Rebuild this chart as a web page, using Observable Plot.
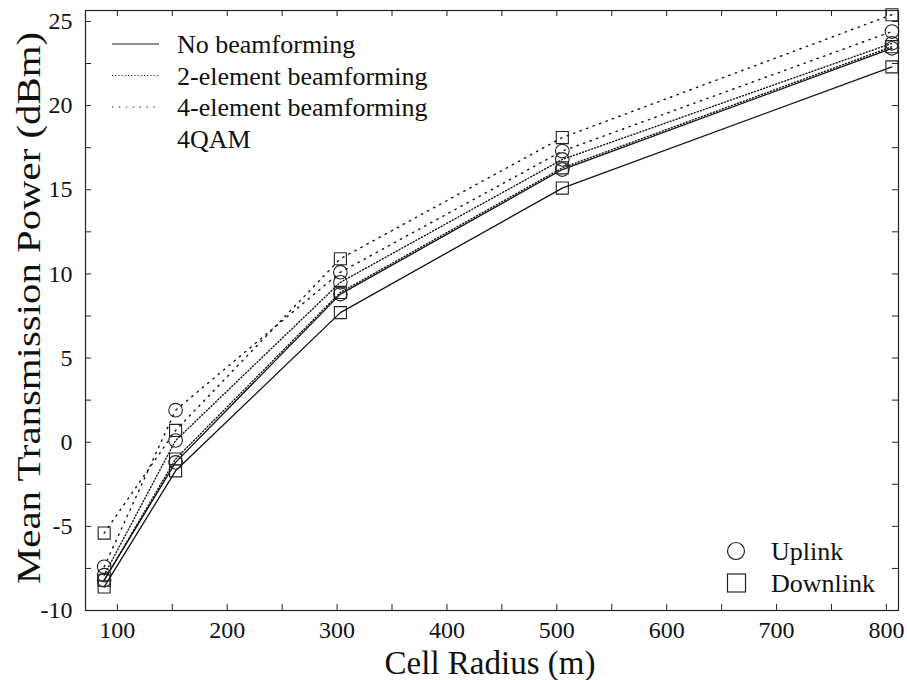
<!DOCTYPE html>
<html>
<head>
<meta charset="utf-8">
<script src="https://cdn.jsdelivr.net/npm/d3@7"></script>
<script src="https://cdn.jsdelivr.net/npm/@observablehq/plot@0.6"></script>
<style>
  html, body { margin: 0; padding: 0; background: #fff; }
  #wrap { position: relative; width: 907px; height: 680px; font-family: "Liberation Serif", "DejaVu Serif", serif; color: #111; }
  #wrap svg { position: absolute; left: 0; top: 0; }
  .lab { position: absolute; white-space: nowrap; color: #111; line-height: 1; font-family: "Liberation Serif", "DejaVu Serif", serif; }
</style>
</head>
<body>
<div id="wrap"></div>
<script>
// ---- data ----
const radius = [88, 153, 303, 505, 805];
const noBfUplink   = [-8.2, -1.2, 8.8, 16.2, 23.4];
const noBfDownlink = [-8.6, -1.7, 7.7, 15.1, 22.3];
const bf2Uplink    = [-7.9, 0.1, 9.5, 16.8, 23.7];
const bf2Downlink  = [-8.2, -1.0, 8.9, 16.3, 23.5];
const bf4Uplink    = [-7.4, 1.9, 10.1, 17.3, 24.4];
const bf4Downlink  = [-5.4, 0.7, 10.9, 18.1, 25.4];

const xTickLabels = [100, 200, 300, 400, 500, 600, 700, 800];
const xTickMarks = d3.range(100, 801, 50);
const yTickLabels = [-10, -5, 0, 5, 10, 15, 20, 25];
const yTickMarks = d3.range(-10, 25.01, 2.5);

const schemes = ["No beamforming", "2-element beamforming", "4-element beamforming"];
const links = ["Uplink", "Downlink"];
const seriesList = [
  {scheme: schemes[0], link: links[0], values: noBfUplink},
  {scheme: schemes[0], link: links[1], values: noBfDownlink},
  {scheme: schemes[1], link: links[0], values: bf2Uplink},
  {scheme: schemes[1], link: links[1], values: bf2Downlink},
  {scheme: schemes[2], link: links[0], values: bf4Uplink},
  {scheme: schemes[2], link: links[1], values: bf4Downlink}
];
const rows = seriesList.flatMap(s => s.values.map((v, i) => ({
  radius: radius[i], power: v, scheme: s.scheme, link: s.link, key: s.scheme + "|" + s.link
})));

// ---- layout ----
const W = 907, H = 680;
const mL = 85, mR = 9, mT = 10, mB = 70;
const innerW = W - mL - mR, innerH = H - mT - mB;
const tickLen = 6;
const serif = '"Liberation Serif", "DejaVu Serif", serif';

const dashFor = {
  [schemes[0]]: null,
  [schemes[1]]: "1,2.2",
  [schemes[2]]: "1.4,5.5"
};

const lineMarks = schemes.map(sc => Plot.line(rows.filter(r => r.scheme === sc), {
  x: "radius", y: "power", z: "key",
  stroke: "#111", strokeWidth: sc === schemes[0] ? 1.3 : 1.4,
  strokeDasharray: dashFor[sc] || undefined
}));

const chart = Plot.plot({
  width: W, height: H,
  marginLeft: mL, marginRight: mR, marginTop: mT, marginBottom: mB,
  style: {fontFamily: serif, fontSize: "24px", color: "#111", background: "transparent"},
  x: {domain: [71, 811]},
  y: {domain: [-10, 25.65]},
  symbol: {domain: links, range: ["circle", "square"]},
  marks: [
    Plot.frame({stroke: "#222", strokeWidth: 1.2}),
    // inward ticks on all four sides
    Plot.tickX(xTickMarks, {x: d => d, insetTop: innerH - tickLen, stroke: "#222"}),
    Plot.tickX(xTickMarks, {x: d => d, insetBottom: innerH - tickLen, stroke: "#222"}),
    Plot.tickY(yTickMarks, {y: d => d, insetRight: innerW - tickLen, stroke: "#222"}),
    Plot.tickY(yTickMarks, {y: d => d, insetLeft: innerW - tickLen, stroke: "#222"}),
    Plot.axisX(xTickLabels, {tickSize: 0, tickPadding: 10, label: null, fontSize: 24}),
    Plot.axisY(yTickLabels, {tickSize: 0, tickPadding: 13, label: null, fontSize: 24, tickFormat: d => d < 0 ? "-" + Math.abs(d) : String(d)}),
    ...lineMarks,
    Plot.dot(rows, {x: "radius", y: "power", symbol: "link", r: 6.8, stroke: "#222", strokeWidth: 1.1, fill: "none"})
  ]
});

const wrap = document.getElementById("wrap");
wrap.appendChild(chart);

// ---- axis titles ----
function addLabel(text, css) {
  const d = document.createElement("div");
  d.className = "lab";
  d.textContent = text;
  Object.assign(d.style, css);
  wrap.appendChild(d);
  return d;
}
addLabel("Cell Radius (m)", {left: "490px", top: "663px", fontSize: "33px", transform: "translate(-50%,-50%)"});
addLabel("Mean Transmission Power (dBm)", {left: "29px", top: "308px", fontSize: "34px", transform: "translate(-50%,-50%) rotate(-90deg) scaleX(1.2)"});

// ---- legends ----
const ns = "http://www.w3.org/2000/svg";
const leg = document.createElementNS(ns, "svg");
leg.setAttribute("width", W); leg.setAttribute("height", H);
leg.style.pointerEvents = "none";
wrap.appendChild(leg);
function svgText(str, x, y, size) {
  const t = document.createElementNS(ns, "text");
  t.setAttribute("x", x); t.setAttribute("y", y);
  t.setAttribute("font-family", serif);
  t.setAttribute("font-size", size); t.setAttribute("fill", "#111");
  t.textContent = str;
  leg.appendChild(t);
}
schemes.forEach((sc, i) => {
  const y = 44 + i * 31.5;
  const l = document.createElementNS(ns, "line");
  l.setAttribute("x1", 112); l.setAttribute("x2", 159);
  l.setAttribute("y1", y); l.setAttribute("y2", y);
  l.setAttribute("stroke", "#222"); l.setAttribute("stroke-width", 1.2);
  if (dashFor[sc]) l.setAttribute("stroke-dasharray", dashFor[sc]);
  leg.appendChild(l);
  svgText(sc, 177, y + 9, 26);
});
svgText("4QAM", 177, 44 + 3 * 31.5 + 9, 26);

links.forEach((lk, i) => {
  const cy = 551 + i * 32;
  let s;
  if (i === 0) {
    s = document.createElementNS(ns, "circle");
    s.setAttribute("cx", 736); s.setAttribute("cy", cy); s.setAttribute("r", 8.5);
  } else {
    s = document.createElementNS(ns, "rect");
    s.setAttribute("x", 727.5); s.setAttribute("y", cy - 9);
    s.setAttribute("width", 18); s.setAttribute("height", 18);
  }
  s.setAttribute("fill", "none"); s.setAttribute("stroke", "#222"); s.setAttribute("stroke-width", 1.2);
  leg.appendChild(s);
  svgText(lk, 771, cy + 9, 26);
});
</script>
</body>
</html>
